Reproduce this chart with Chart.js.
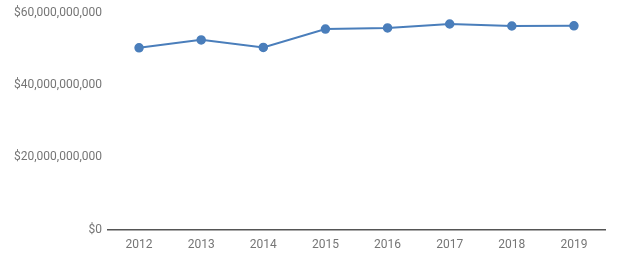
<!DOCTYPE html>
<html><head><meta charset="utf-8">
<script src="https://cdn.jsdelivr.net/npm/chart.js@4/dist/chart.umd.min.js"></script>
<style>html,body{margin:0;padding:0;background:#fff}#wrap{width:618px;height:265px}</style>
</head><body><div id="wrap"><canvas id="c" width="618" height="265"></canvas></div>
<script>
const years = ['2012','2013','2014','2015','2016','2017','2018','2019'];
const values = [50.4e9, 52.6e9, 50.5e9, 55.6e9, 55.9e9, 57.0e9, 56.45e9, 56.5e9];
const yTicks = [0, 20e9, 40e9, 60e9];

new Chart(document.getElementById('c'), {
  type: 'line',
  data: { labels: years, datasets: [{
    data: values,
    borderColor: '#4a7ebb', backgroundColor: '#4a7ebb',
    borderWidth: 2, pointRadius: 4, pointHoverRadius: 4, pointBorderWidth: 1.5,
    tension: 0, fill: false
  }]},
  options: {
    responsive: false, animation: false, devicePixelRatio: 1,
    plugins: { legend: { display: false }, tooltip: { enabled: false } },
    layout: { padding: { top: 12.5, right: 13, left: 0, bottom: 0 } },
    scales: {
      x: {
        offset: true,
        grid: { display: false, drawTicks: false },
        border: { display: true, color: '#555', width: 1.5 },
        ticks: { color: '#757575', font: { family: 'Roboto', size: 12 }, padding: 8 },
        afterFit: s => { s.height = 35.5; }
      },
      y: {
        min: 0, max: 60e9,
        afterBuildTicks: s => { s.ticks = yTicks.map(v => ({ value: v })); },
        grid: { display: false, drawTicks: false },
        border: { display: false },
        ticks: { color: '#757575', font: { family: 'Roboto', size: 12 }, padding: 6,
          callback: v => '$' + Number(v).toLocaleString('en-US') },
        afterFit: s => { s.width = 108; }
      }
    }
  }
});
</script></body></html>
